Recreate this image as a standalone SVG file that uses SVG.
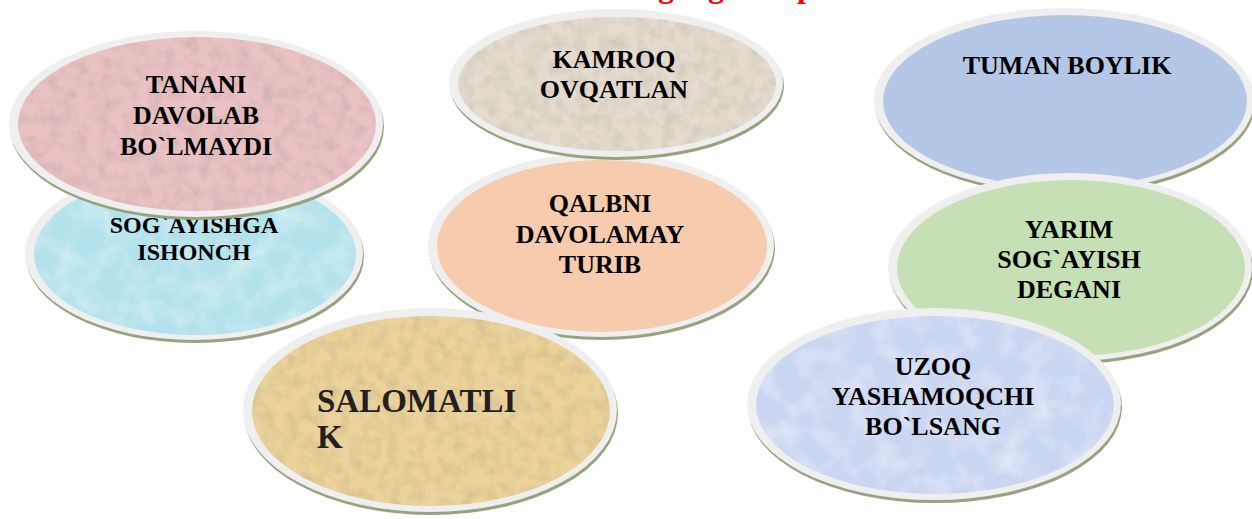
<svg xmlns="http://www.w3.org/2000/svg" width="1252" height="519" viewBox="0 0 1252 519">
<style>
.sh{fill:#97a27f}
.rg{fill:#efefef}
.t{font-family:"Liberation Serif","Times New Roman",serif;font-weight:bold;font-size:26px;fill:#000;text-anchor:middle}
.ttl{font-family:"Liberation Serif","Times New Roman",serif;font-weight:bold;font-size:32px;fill:#ff0000}
</style>
<defs>
<filter id="tex" x="0" y="0" width="1" height="1">
<feTurbulence type="fractalNoise" baseFrequency="0.08" numOctaves="3" seed="3" result="n"/>
<feColorMatrix in="n" type="matrix" values="0 0 0 0 0  0 0 0 0 0  0 0 0 0 0  0.35 0 0 0 -0.13" result="m"/>
<feComposite in="m" in2="SourceGraphic" operator="in" result="mm"/>
<feMerge><feMergeNode in="SourceGraphic"/><feMergeNode in="mm"/></feMerge>
</filter>
<filter id="tex2" x="0" y="0" width="1" height="1">
<feTurbulence type="fractalNoise" baseFrequency="0.04" numOctaves="4" seed="7" result="n"/>
<feColorMatrix in="n" type="matrix" values="0 0 0 0 1  0 0 0 0 1  0 0 0 0 1  0.8 0 0 0 -0.32" result="m"/>
<feComposite in="m" in2="SourceGraphic" operator="in" result="mm"/>
<feMerge><feMergeNode in="SourceGraphic"/><feMergeNode in="mm"/></feMerge>
</filter>
</defs>
<rect width="1252" height="519" fill="#fff"/>
<text class="ttl" x="658 708 797" y="-3">ggp</text>

<g id="node-tuman">
<ellipse class="sh" cx="1065" cy="103" rx="190" ry="92"/>
<ellipse class="rg" cx="1064" cy="100" rx="190" ry="92"/>
<ellipse cx="1065" cy="101" rx="182" ry="86" fill="#b4c7e7"/>
<text class="t" x="1067" y="74">TUMAN BOYLIK</text>
</g>

<g id="node-yarim">
<ellipse class="sh" cx="1071" cy="270" rx="182" ry="94"/>
<ellipse class="rg" cx="1070" cy="267" rx="182" ry="94"/>
<ellipse cx="1071" cy="268" rx="174" ry="88" fill="#c5e0b4"/>
<text class="t" x="1069" y="238">YARIM</text>
<text class="t" x="1069" y="268">SOG`AYISH</text>
<text class="t" x="1069" y="298">DEGANI</text>
</g>

<g id="node-uzoq">
<ellipse class="sh" cx="935" cy="407" rx="187" ry="96"/>
<ellipse class="rg" cx="934" cy="404" rx="187" ry="96"/>
<ellipse cx="935" cy="405" rx="179" ry="89" fill="#c9d5f1" filter="url(#tex2)"/>
<text class="t" x="933" y="375">UZOQ</text>
<text class="t" x="933" y="405">YASHAMOQCHI</text>
<text class="t" x="933" y="435">BO`LSANG</text>
</g>

<g id="node-qalbni">
<ellipse class="sh" cx="602" cy="248" rx="173" ry="92"/>
<ellipse class="rg" cx="601" cy="245" rx="173" ry="92"/>
<ellipse cx="602" cy="246" rx="165" ry="86" fill="#f7cbad"/>
<text class="t" x="600" y="212">QALBNI</text>
<text class="t" x="600" y="243">DAVOLAMAY</text>
<text class="t" x="600" y="273">TURIB</text>
</g>

<g id="node-kamroq">
<ellipse class="sh" cx="617" cy="86" rx="167" ry="74"/>
<ellipse class="rg" cx="616" cy="83" rx="167" ry="74"/>
<ellipse cx="617" cy="84" rx="159" ry="67" fill="#e5dccf" filter="url(#tex)"/>
<text class="t" x="614" y="68">KAMROQ</text>
<text class="t" x="614" y="98">OVQATLAN</text>
</g>

<g id="node-salomatlik">
<ellipse class="sh" cx="431" cy="413" rx="187" ry="102"/>
<ellipse class="rg" cx="430" cy="410" rx="187" ry="102"/>
<ellipse cx="431" cy="411" rx="179" ry="95" fill="#ebd39b" filter="url(#tex)"/>
<text class="t" x="317" y="412" style="text-anchor:start;font-size:33px;fill:#231f20">SALOMATLI</text>
<text class="t" x="317" y="448" style="text-anchor:start;font-size:33px;fill:#231f20">K</text>
</g>

<g id="node-sogayish">
<ellipse class="sh" cx="195" cy="256" rx="169" ry="87"/>
<ellipse class="rg" cx="194" cy="253" rx="169" ry="87"/>
<ellipse cx="195" cy="254" rx="161" ry="81" fill="#b3e2ec" filter="url(#tex2)"/>
<text class="t" x="194" y="233" style="font-size:24px">SOG`AYISHGA</text>
<text class="t" x="194" y="260" style="font-size:24px">ISHONCH</text>
</g>

<g id="node-tanani">
<ellipse class="sh" cx="197" cy="127" rx="187" ry="93"/>
<ellipse class="rg" cx="196" cy="124" rx="187" ry="93"/>
<ellipse cx="197" cy="124" rx="179" ry="87" fill="#eac2c4" filter="url(#tex)"/>
<text class="t" x="196" y="93">TANANI</text>
<text class="t" x="196" y="124">DAVOLAB</text>
<text class="t" x="196" y="155">BO`LMAYDI</text>
</g>

<g id="connectors"/>
</svg>
